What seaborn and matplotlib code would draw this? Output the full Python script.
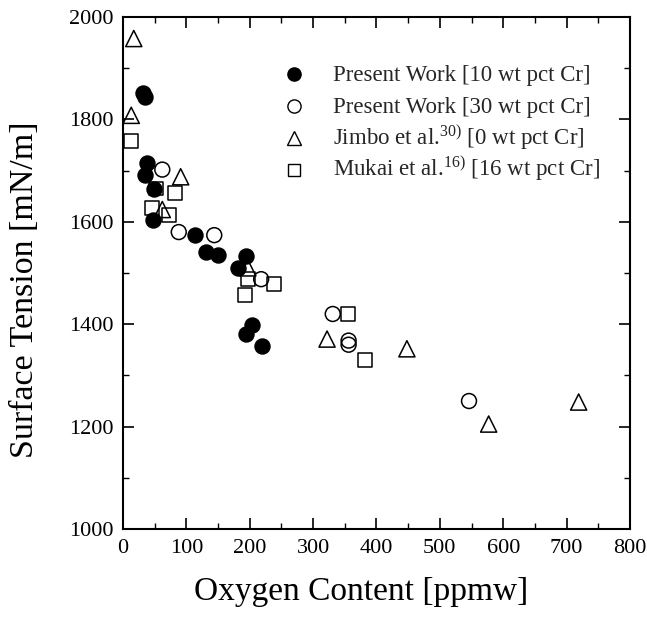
import matplotlib
matplotlib.use("Agg")
import matplotlib.pyplot as plt
import matplotlib.transforms as mtransforms
import seaborn as sns
import pandas as pd
from matplotlib.ticker import MultipleLocator
from matplotlib.lines import Line2D

sns.set_theme(style="ticks")
plt.rcParams['font.family'] = ['Liberation Serif', 'DejaVu Serif']
plt.rcParams['mathtext.fontset'] = 'custom'
plt.rcParams['mathtext.rm'] = 'Liberation Serif'
plt.rcParams['mathtext.it'] = 'Liberation Serif:italic'

# Present Work, 10 wt pct Cr (filled circles)
pw10_x = [31, 35, 38, 35, 49, 47, 114, 131, 150, 181, 194, 204, 194, 219]
pw10_y = [1852, 1844, 1714, 1692, 1664, 1604, 1574, 1542, 1536, 1510, 1533, 1398, 1380, 1358]
# Present Work, 30 wt pct Cr (open circles)
pw30_x = [62, 88, 144, 218, 331, 356, 356, 546]
pw30_y = [1702, 1580, 1574, 1488, 1420, 1368, 1360, 1250]
# Jimbo et al., 0 wt pct Cr (open triangles)
jim_x = [17, 13, 91, 62, 197, 322, 448, 577, 719]
jim_y = [1958, 1808, 1688, 1624, 1510, 1371, 1352, 1205, 1248]
# Mukai et al., 16 wt pct Cr (open squares)
muk_x = [13, 52, 82, 46, 72, 197, 238, 192, 355, 382]
muk_y = [1757, 1665, 1657, 1627, 1614, 1489, 1478, 1457, 1420, 1330]

labels = ["Present Work [10 wt pct Cr]",
          "Present Work [30 wt pct Cr]",
          r"Jimbo et al.$^{\mathrm{30)}}$ [0 wt pct Cr]",
          r"Mukai et al.$^{\mathrm{16)}}$ [16 wt pct Cr]"]

fig = plt.figure(figsize=(6.47, 6.17), dpi=100)
ax = fig.add_axes([0.1901, 0.1426, 0.7836, 0.8298])

series = [(pw10_x, pw10_y, 'o', True, 115),
          (pw30_x, pw30_y, 'o', False, 115),
          (jim_x, jim_y, '^', False, 135),
          (muk_x, muk_y, 's', False, 100)]
for xs, ys, m, filled, s in series:
    df = pd.DataFrame({"x": xs, "y": ys})
    sns.scatterplot(data=df, x="x", y="y", ax=ax, marker=m, s=s,
                    color='black', edgecolor='black', linewidth=1.1, zorder=3)
    ax.collections[-1].set_facecolor('black' if filled else 'none')

ax.set_xlim(0, 800)
ax.set_ylim(1000, 2000)
ax.xaxis.set_major_locator(MultipleLocator(100))
ax.xaxis.set_minor_locator(MultipleLocator(50))
ax.yaxis.set_major_locator(MultipleLocator(200))
ax.yaxis.set_minor_locator(MultipleLocator(100))
ax.tick_params(which='both', direction='in', top=True, right=True, color='black')
ax.tick_params(which='major', length=8, width=1.2, labelsize=16, pad=7)
ax.tick_params(which='minor', length=4, width=1.0)
for sp in ax.spines.values():
    sp.set_color('black')
    sp.set_linewidth(1.5)
ax.set_xlabel("Oxygen Content [ppmw]", fontsize=24, color='black')
ax.set_ylabel("Surface Tension [mN/m]", fontsize=24.5, color='black')
ax.xaxis.set_label_coords(0.47, -0.093)
ax.yaxis.set_label_coords(-0.163, 0.467)
for t in ax.get_xticklabels() + ax.get_yticklabels():
    t.set_color('black')

handles = [
    Line2D([], [], ls='none', marker='o', ms=9.5, mfc='black', mec='black'),
    Line2D([], [], ls='none', marker='o', ms=9.5, mfc='none', mec='black'),
    Line2D([], [], ls='none', marker='^', ms=10, mfc='none', mec='black'),
    Line2D([], [], ls='none', marker='s', ms=8.5, mfc='none', mec='black'),
]
leg = ax.legend(handles, labels, loc='upper left', bbox_to_anchor=(0.3146, 0.92),
                frameon=False, fontsize=16.5, handletextpad=1.2, labelspacing=0.0,
                handlelength=1.0, handleheight=1.75, borderpad=0, borderaxespad=0)
shift = mtransforms.ScaledTranslation(0, -3.5 / 72, fig.dpi_scale_trans)
for h in leg.legend_handles:
    h.set_transform(h.get_transform() + shift)

fig.savefig("out.png", dpi=100)
